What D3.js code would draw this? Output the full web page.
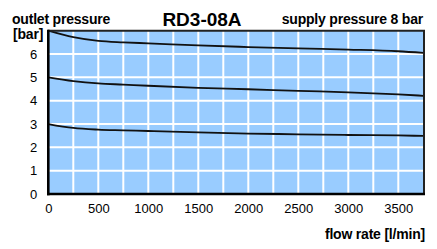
<!DOCTYPE html>
<html>
<head>
<meta charset="utf-8">
<script src="https://cdn.jsdelivr.net/npm/d3@7"></script>
<style>
    body { margin: 0; background: #fff; }
    svg text { font-family: "Liberation Sans", Arial, Helvetica, sans-serif; fill: #000; }
</style>
</head>
<body>
<svg id="chart" width="437" height="249"></svg>
<script>
// flow rate [l/min] sample points
var flow = [0, 250, 500, 750, 1000, 1500, 2000, 2500, 3000, 3500, 3750];
// outlet pressure [bar] for each setting, supply 8 bar
var set7 = [7.0, 6.72, 6.56, 6.50, 6.46, 6.37, 6.30, 6.24, 6.19, 6.12, 6.05];
var set5 = [5.0, 4.84, 4.74, 4.69, 4.64, 4.55, 4.49, 4.42, 4.36, 4.27, 4.21];
var set3 = [3.0, 2.83, 2.76, 2.73, 2.70, 2.64, 2.59, 2.56, 2.53, 2.51, 2.49];
var xTicks = [0, 500, 1000, 1500, 2000, 2500, 3000, 3500];
var yTicks = [0, 1, 2, 3, 4, 5, 6];

var svg = d3.select('#chart');
var pLeft = 48.3, pRight = 423.3, pTop = 30.7, pBottom = 194;

var x = d3.scaleLinear().domain([0, 3750]).range([pLeft, pRight]);
var y = d3.scaleLinear().domain([0, 7]).range([pBottom, pTop]);

// plot background
svg.append('rect')
    .attr('x', pLeft).attr('y', pTop)
    .attr('width', pRight - pLeft).attr('height', pBottom - pTop)
    .attr('fill', '#99ccff');

// grid: every 250 l/min and every bar
svg.append('g').selectAll('line')
    .data(d3.range(250, 3750, 250))
    .enter().append('line')
        .attr('x1', function (d) { return x(d); })
        .attr('x2', function (d) { return x(d); })
        .attr('y1', pTop).attr('y2', pBottom)
        .attr('stroke', '#fff').attr('stroke-width', 2);
svg.append('g').selectAll('line')
    .data(d3.range(1, 7))
    .enter().append('line')
        .attr('y1', function (d) { return y(d); })
        .attr('y2', function (d) { return y(d); })
        .attr('x1', pLeft).attr('x2', pRight)
        .attr('stroke', '#fff').attr('stroke-width', 2);

// curves
var line = d3.line()
    .x(function (d) { return x(d[0]); })
    .y(function (d) { return y(d[1]); })
    .curve(d3.curveMonotoneX);
[set7, set5, set3].forEach(function (s) {
    svg.append('path')
        .datum(flow.map(function (f, i) { return [f, s[i]]; }))
        .attr('d', line)
        .attr('fill', 'none')
        .attr('stroke', '#111')
        .attr('stroke-width', 1.8);
});

// frame
svg.append('line').attr('x1', pLeft).attr('x2', pRight + 1.7).attr('y1', pTop).attr('y2', pTop)
    .attr('stroke', '#222').attr('stroke-width', 2);
svg.append('line').attr('x1', pRight + 0.7).attr('x2', pRight + 0.7).attr('y1', pTop).attr('y2', pBottom)
    .attr('stroke', '#222').attr('stroke-width', 2);

// axes
var xAxis = svg.append('g')
    .attr('transform', 'translate(0,' + pBottom + ')')
    .call(d3.axisBottom(x).tickValues(xTicks).tickFormat(d3.format('d')).tickSize(0).tickPadding(10));
var yAxis = svg.append('g')
    .attr('transform', 'translate(' + pLeft + ',0)')
    .call(d3.axisLeft(y).tickValues(yTicks).tickFormat(d3.format('d')).tickSize(0).tickPadding(11));
[xAxis, yAxis].forEach(function (a) {
    a.select('.domain').attr('stroke', '#000').attr('stroke-width', 2.6);
    a.selectAll('text').attr('font-size', 13).attr('font-family', null).attr('fill', '#000');
});
yAxis.select('.domain').attr('d', 'M0,' + (pTop - 1) + 'V' + (pBottom + 1.3));
xAxis.select('.domain').attr('d', 'M' + (pLeft - 1.3) + ',0H' + (pRight + 1.7));

// titles
svg.append('text').attr('x', 12).attr('y', 24)
    .attr('font-size', 14).attr('font-weight', 'bold').attr('letter-spacing', -0.2)
    .text('outlet pressure');
svg.append('text').attr('x', 13).attr('y', 39)
    .attr('font-size', 14).attr('font-weight', 'bold').attr('letter-spacing', -0.2)
    .text('[bar]');
svg.append('text').attr('x', 202).attr('y', 26)
    .attr('text-anchor', 'middle')
    .attr('font-size', 19).attr('font-weight', 'bold')
    .text('RD3-08A');
svg.append('text').attr('x', 423).attr('y', 24)
    .attr('text-anchor', 'end')
    .attr('font-size', 14).attr('font-weight', 'bold').attr('letter-spacing', -0.2)
    .text('supply pressure 8 bar');
svg.append('text').attr('x', 425).attr('y', 239)
    .attr('text-anchor', 'end')
    .attr('font-size', 14).attr('font-weight', 'bold').attr('letter-spacing', -0.2)
    .text('flow rate [l/min]');
</script>
</body>
</html>
